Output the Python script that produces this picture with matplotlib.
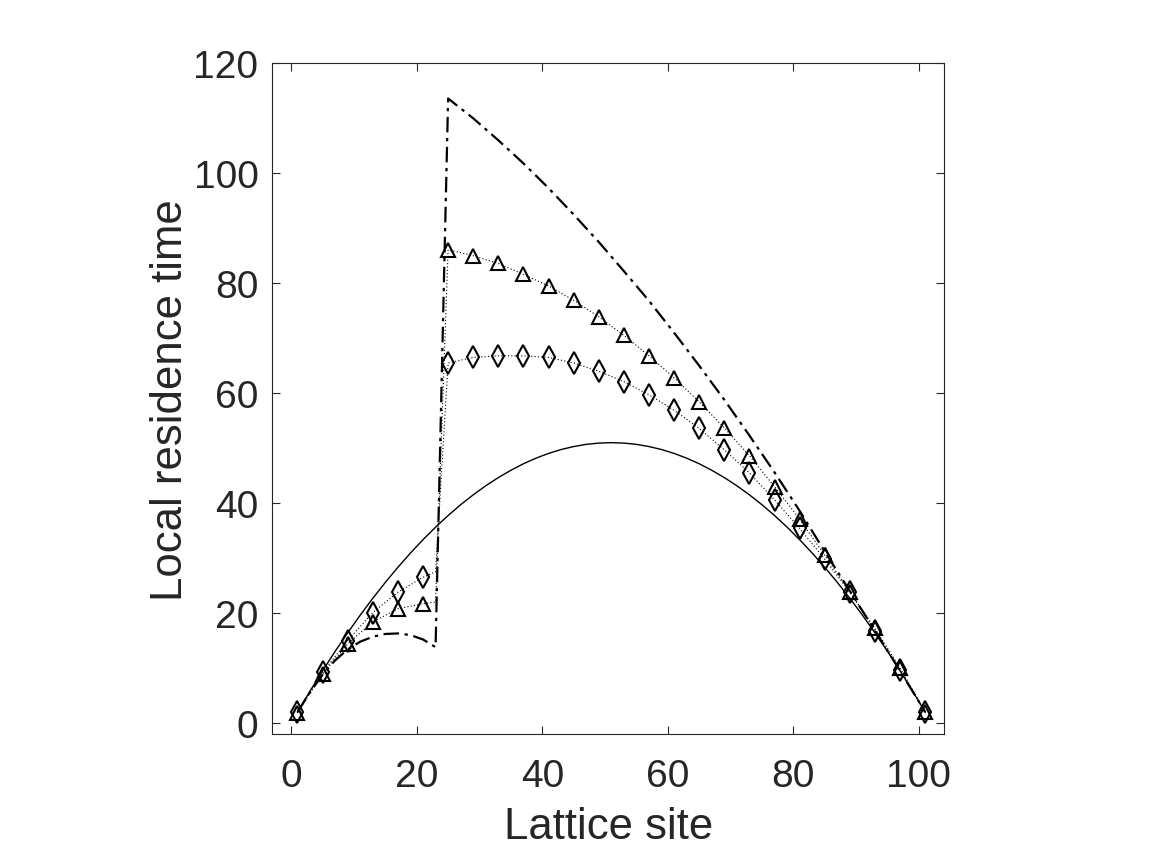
import matplotlib
matplotlib.use("Agg")
import matplotlib.pyplot as plt

plt.rcParams['font.family'] = ['Liberation Sans', 'DejaVu Sans']

# Solid curve (odd sites)
solid_sites = list(range(1, 102, 2))
solid_vals = [1.98, 5.82, 9.51, 13.04, 16.41, 19.63, 22.69, 25.59, 28.33, 30.92,
              33.35, 35.63, 37.75, 39.71, 41.51, 43.16, 44.65, 45.98, 47.16, 48.18,
              49.04, 49.75, 50.29, 50.69, 50.92, 51.0, 50.92, 50.69, 50.29, 49.75,
              49.04, 48.18, 47.16, 45.98, 44.65, 43.16, 41.51, 39.71, 37.75, 35.63,
              33.35, 30.92, 28.33, 25.59, 22.69, 19.63, 16.41, 13.04, 9.51, 5.82, 1.98]

# Dash-dot curve
dd_sites = [1, 3, 5, 7, 9, 11, 13, 15, 17, 19, 21, 23,
            25, 29, 33, 37, 41, 45, 49, 53, 57, 61, 65, 69, 73, 77, 81, 85, 89, 93, 97, 101]
dd_vals = [2.0, 5.6, 8.8, 11.4, 13.4, 14.8, 15.7, 16.2, 16.3, 16.0, 15.2, 13.8,
           113.6, 110.0, 106.0, 101.8, 97.3, 92.5, 87.5, 82.2, 76.8, 71.0, 65.0, 58.8,
           52.3, 45.6, 38.6, 31.2, 24.0, 16.8, 9.5, 2.0]

# Dotted series (markers at every 4th site; site 23 is a line point only)
mk_sites = [1, 5, 9, 13, 17, 21, 23, 25, 29, 33, 37, 41, 45, 49, 53, 57, 61, 65,
            69, 73, 77, 81, 85, 89, 93, 97, 101]
tri_vals = [1.9, 8.9, 14.4, 18.4, 20.8, 21.7, 22.0, 86.1, 85.0, 83.6, 81.6, 79.5, 76.9,
            73.9, 70.5, 66.8, 62.8, 58.4, 53.7, 48.6, 43.0, 37.1, 30.5, 23.9, 17.2, 10.0, 2.0]
dia_vals = [2.0, 9.2, 15.0, 20.1, 23.8, 26.5, 27.5, 65.5, 66.5, 66.8, 66.8, 66.5, 65.5,
            64.0, 62.1, 59.7, 56.9, 53.6, 49.7, 45.5, 40.6, 35.4, 29.8, 23.8, 16.8, 9.6, 2.0]

x_ticks = [0, 20, 40, 60, 80, 100]
y_ticks = [0, 20, 40, 60, 80, 100, 120]

txt = '#262626'
fig = plt.figure(figsize=(11.75, 8.53), dpi=100)
ax = fig.add_axes([0.2318, 0.1383, 0.5716, 0.7863])

ax.plot(solid_sites, solid_vals, '-', color='black', lw=1.0)
ax.plot(dd_sites, dd_vals, color='black', lw=1.6, linestyle=(0, (7, 2.5, 1.5, 2.5)))
mark_idx = [i for i, s in enumerate(mk_sites) if s != 23]
ax.plot(mk_sites, tri_vals, linestyle=(0, (1, 2)), color='black', lw=0.8,
        marker='^', markevery=mark_idx, markersize=10.5, markerfacecolor='none',
        markeredgecolor='black', markeredgewidth=1.5)
ax.plot(mk_sites, dia_vals, linestyle=(0, (1, 2)), color='black', lw=0.8,
        marker='d', markevery=mark_idx, markersize=11, markerfacecolor='none',
        markeredgecolor='black', markeredgewidth=1.5)

ax.set_xlim(-3, 104)
ax.set_ylim(-2, 120)
ax.set_xticks(x_ticks)
ax.set_yticks(y_ticks)
ax.tick_params(direction='in', length=6, width=0.8, colors=txt, labelsize=28,
               top=True, right=True)
ax.tick_params(axis='x', pad=17)
ax.tick_params(axis='y', pad=10)
for sp in ax.spines.values():
    sp.set_color(txt)
    sp.set_linewidth(0.8)
ax.set_xlabel('Lattice site', fontsize=31.5, color=txt, labelpad=9)
ax.set_ylabel('Local residence time', fontsize=31.5, color=txt, labelpad=2)

fig.savefig('out.png', dpi=100)
